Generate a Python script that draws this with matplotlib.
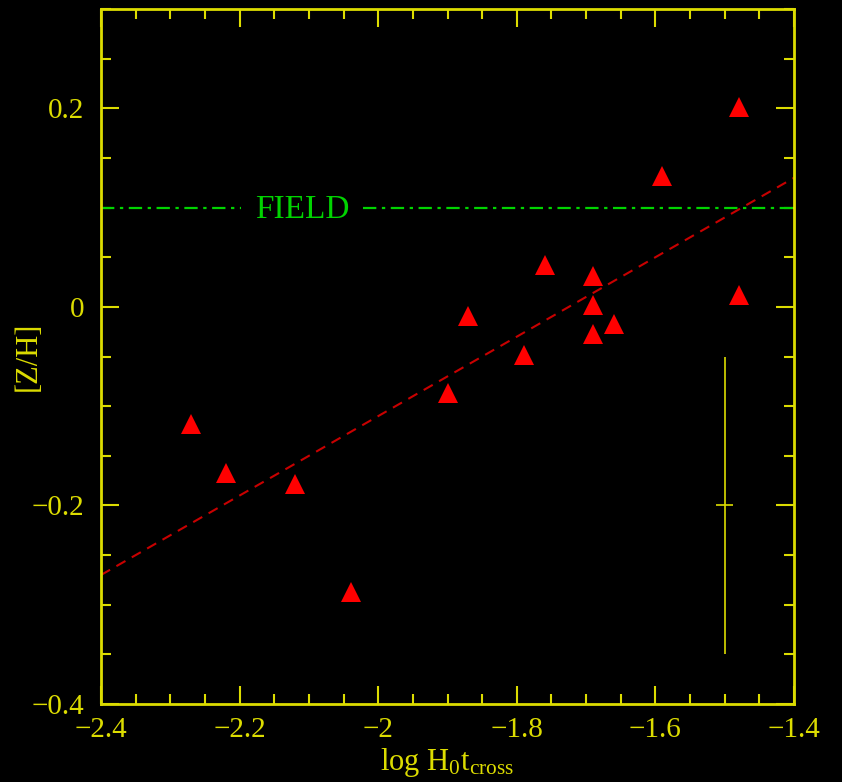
import numpy as np
import matplotlib
matplotlib.use('Agg')
import matplotlib.pyplot as plt
from matplotlib.ticker import MultipleLocator, FuncFormatter

# groups: log H0 t_cross vs [Z/H]
log_tcross = [-2.27, -2.22, -2.12, -2.04, -1.90, -1.87, -1.79, -1.76,
              -1.69, -1.69, -1.69, -1.66, -1.59, -1.48, -1.48]
z_h = [-0.118, -0.167, -0.178, -0.287, -0.087, -0.009, -0.048, 0.042,
       0.031, 0.002, -0.027, -0.017, 0.132, 0.201, 0.012]

# linear fit shown in the figure
fit_x = [-2.4, -1.4]
fit_y = [-0.27, 0.13]

field_level = 0.1
field_x1 = [-2.4, -2.198]
field_x2 = [-2.022, -1.4]

# typical error bar
err_x, err_y, err_yerr, err_xerr = -1.5, -0.2, 0.15, 0.012

bg = "#000000"
fg = "#dcdc00"
green = "#00d400"
red = "#ff0000"
fit_color = "#c80000"

plt.rcParams['font.family'] = ['Liberation Serif', 'DejaVu Serif']
plt.rcParams['mathtext.fontset'] = 'custom'
plt.rcParams['mathtext.rm'] = 'Liberation Serif'
plt.rcParams['mathtext.it'] = 'Liberation Serif:italic'

fig = plt.figure(figsize=(8.42, 7.82), dpi=100)
fig.patch.set_facecolor(bg)
ax = fig.add_axes([0.12, 0.0997, 0.823, 0.8888])
ax.set_facecolor(bg)

# field line with gap for the label
ax.plot(field_x1, [field_level] * 2, color=green, lw=1.6, ls=(0, (6, 2.5, 1.5, 2.5)))
ax.plot(field_x2, [field_level] * 2, color=green, lw=1.6, ls=(0, (6, 2.5, 1.5, 2.5)))
ax.text(-2.109, 0.0894, 'FIELD', color=green, fontsize=24,
        ha='center', va='baseline')

ax.plot(fit_x, fit_y, color=fit_color, lw=1.5, ls=(0, (5, 3.5)))

ax.plot(log_tcross, z_h, ls='none', marker='^', ms=14, color=red,
        markeredgewidth=0)

ax.errorbar(err_x, err_y, yerr=err_yerr, xerr=err_xerr, color=fg,
            lw=1.2, capsize=0)

ax.set_xlim(-2.4, -1.4)
ax.set_ylim(-0.4, 0.3)

# axes styling
for s in ax.spines.values():
    s.set_color(fg)
    s.set_linewidth(2)
ax.xaxis.set_major_locator(MultipleLocator(0.2))
ax.xaxis.set_minor_locator(MultipleLocator(0.05))
ax.yaxis.set_major_locator(MultipleLocator(0.2))
ax.yaxis.set_minor_locator(MultipleLocator(0.05))
ax.tick_params(which='both', direction='in', top=True, right=True,
               colors=fg, labelsize=21)
ax.tick_params(axis='y', pad=12)
ax.tick_params(axis='x', pad=9)
ax.tick_params(which='major', length=13, width=1.5)
ax.tick_params(which='minor', length=7, width=1.5)

fmt = FuncFormatter(lambda v, p: ('%g' % round(v, 2)).replace('-', '\u2212'))
ax.xaxis.set_major_formatter(fmt)
ax.yaxis.set_major_formatter(fmt)

ax.set_xlabel(r'log H$_0$t$_{\mathrm{cross}}$', color=fg, fontsize=22)
ax.set_ylabel('[Z/H]', color=fg, fontsize=22)
ax.xaxis.set_label_coords(0.5, -0.061)
ax.yaxis.set_label_coords(-0.084, 0.5)

fig.savefig('out.png', dpi=100, facecolor=bg)
